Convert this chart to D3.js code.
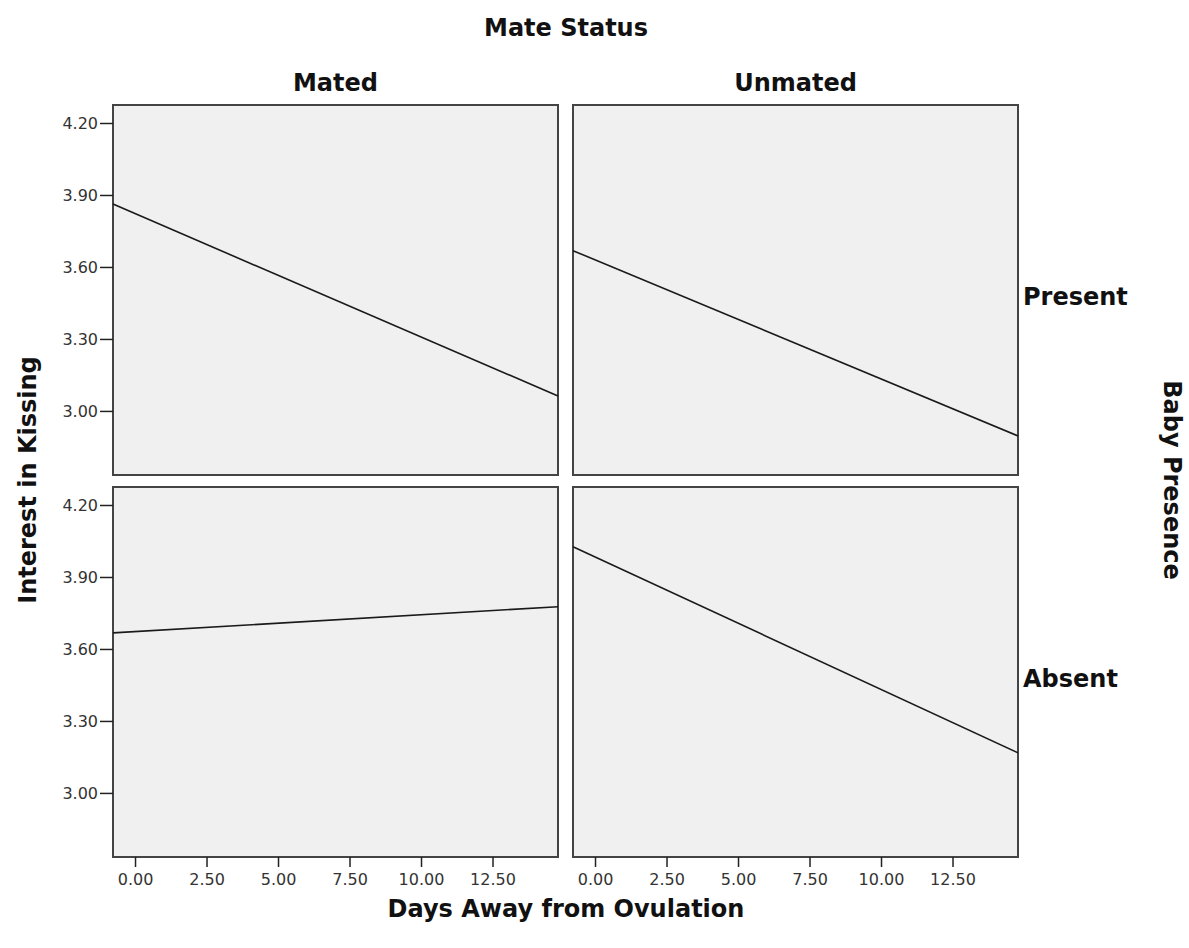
<!DOCTYPE html>
<html>
<head>
<meta charset="utf-8">
<script src="https://cdn.jsdelivr.net/npm/d3@7"></script>
<style>
  html, body { margin: 0; padding: 0; background: #fff; }
  svg { display: block; }
  .tick text { font-family: "DejaVu Sans", sans-serif; font-size: 16px; fill: #333; }
  .tick line { stroke: #222; stroke-width: 1.5; }
  .title { font-family: "DejaVu Sans", sans-serif; font-weight: bold; font-size: 24px; fill: #111; }
</style>
</head>
<body>
<script>
// ---- data ----
const colCategories = ["Mated", "Unmated"];          // Mate Status
const rowCategories = ["Present", "Absent"];         // Baby Presence
const xTickValues = [0, 2.5, 5, 7.5, 10, 12.5];
const yTickValues = [3.0, 3.3, 3.6, 3.9, 4.2];
const xDomain = [-0.77, 14.79];
const yDomain = [2.733, 4.275];
// fit-line values at the left and right ends of the x range, order: row-major (Present/Mated, Present/Unmated, Absent/Mated, Absent/Unmated)
const fitAtStart = [3.862, 3.668, 3.667, 4.026];
const fitAtEnd   = [3.062, 2.896, 3.776, 3.167];
const xTitle = "Days Away from Ovulation";
const yTitle = "Interest in Kissing";
const colTitle = "Mate Status";
const rowTitle = "Baby Presence";

// ---- layout ----
const W = 1189, H = 948;
const panelLeft = [113, 573];
const panelTop = [105, 487];
const pw = 445, ph = 370;

const svg = d3.select("body").append("svg").attr("width", W).attr("height", H);

const x = d3.scaleLinear().domain(xDomain).range([0, pw]);
const y = d3.scaleLinear().domain(yDomain).range([ph, 0]);

rowCategories.forEach((rc, ri) => {
  colCategories.forEach((cc, ci) => {
    const g = svg.append("g").attr("transform", `translate(${panelLeft[ci]},${panelTop[ri]})`);
    g.append("rect").attr("width", pw).attr("height", ph)
      .attr("fill", "#f0f0f0").attr("stroke", "#444").attr("stroke-width", 2);
    const k = ri * 2 + ci;
    g.append("line")
      .attr("x1", x(xDomain[0])).attr("y1", y(fitAtStart[k]))
      .attr("x2", x(xDomain[1])).attr("y2", y(fitAtEnd[k]))
      .attr("stroke", "#1a1a1a").attr("stroke-width", 1.6);
    if (ci === 0) {
      const ay = g.append("g").call(d3.axisLeft(y).tickValues(yTickValues).tickFormat(d3.format(".2f")).tickSize(13).tickPadding(2));
      ay.select(".domain").remove();
      ay.selectAll(".tick text").attr("font-family", null).attr("font-size", null);
    }
    if (ri === 1) {
      const ax = g.append("g").attr("transform", `translate(0,${ph})`)
        .call(d3.axisBottom(x).tickValues(xTickValues).tickFormat(d3.format(".2f")).tickSize(10).tickPadding(7));
      ax.select(".domain").remove();
      ax.selectAll(".tick text").attr("font-family", null).attr("font-size", null);
    }
  });
});

// facet labels
colCategories.forEach((cc, ci) => {
  svg.append("text").attr("class", "title").attr("x", panelLeft[ci] + pw / 2).attr("y", 91)
    .attr("text-anchor", "middle").text(cc);
});
rowCategories.forEach((rc, ri) => {
  svg.append("text").attr("class", "title").attr("x", 1023).attr("y", panelTop[ri] + 200)
    .attr("text-anchor", "start").text(rc);
});

// titles
svg.append("text").attr("class", "title").attr("x", 566).attr("y", 917).attr("text-anchor", "middle").text(xTitle);
svg.append("text").attr("class", "title").attr("x", 566).attr("y", 36).attr("text-anchor", "middle").text(colTitle);
svg.append("text").attr("class", "title").attr("text-anchor", "middle")
  .attr("transform", "translate(36,480) rotate(-90)").text(yTitle);
svg.append("text").attr("class", "title").attr("text-anchor", "middle")
  .attr("transform", "translate(1164,480) rotate(90)").text(rowTitle);
</script>
</body>
</html>
